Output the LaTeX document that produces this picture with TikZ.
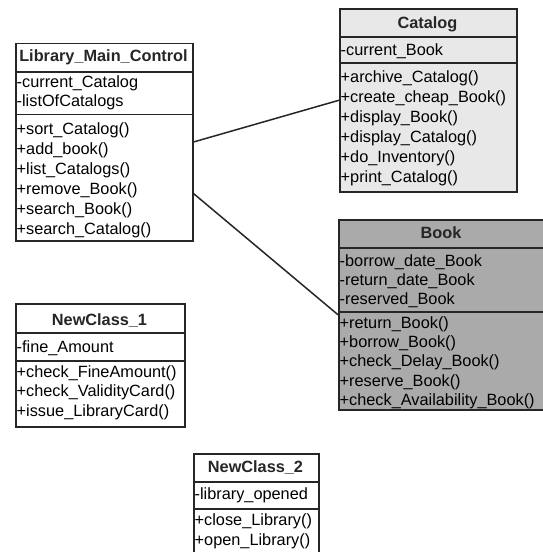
\documentclass[tikz,border=0pt]{standalone}
\usepackage{fontspec}
\setmainfont{Liberation Sans}
\definecolor{linegray}{HTML}{262626}
\definecolor{catalogfill}{HTML}{E8E8E8}
\definecolor{bookfill}{HTML}{AAAAAA}
\newcommand\rowfont{\fontsize{16.3}{19.6}\selectfont}
\newcommand\titlefont{\fontsize{16.3}{19.6}\selectfont\bfseries}
% one text row per list item, first baseline at #3, rows #4 apart
\newcommand\umlrows[5]{%
  \foreach \t [count=\i from 0] in {#5}{%
    \node[rowtext] (#1-\i) at ({#2},{#3+\i*#4}) {\t};}}
% class frame: name, left, top, right, bottom, fill
\newcommand\umlbox[6]{%
  \node[classbox, fill=#6, minimum width={#4-#2}, minimum height={#5-#3}] (#1) at (#2,#3) {};}
\tikzset{
  classbox/.style={draw=linegray, line width=1.5pt, inner sep=0pt, anchor=north west},
  divider/.style={draw=linegray, line width=1.5pt},
  rowtext/.style={inner sep=0pt, anchor=base west, font=\rowfont, text=black},
  titletext/.style={inner sep=0pt, anchor=base, font=\titlefont, text=black!85},
  assoc/.style={draw=linegray, line width=1.5pt},
}
\begin{document}
\begin{tikzpicture}[x=1pt,y=-1pt]
\clip (0,0) rectangle (543,552);
\fill[white] (0,0) rectangle (543,552);

% Library_Main_Control
\umlbox{lmc}{15}{42.5}{192}{240}{white}
\draw[divider] (15,72) -- (192,72);
\draw[divider] (15,114.5) -- (192,114.5);
\node[titletext] (lmc-title) at (103.5,61) {Library\_Main\_Control};
\umlrows{lmc-a}{16.5}{87}{19.2}{-current\_Catalog,-listOfCatalogs}
\umlrows{lmc-m}{16.5}{134}{20.1}{+sort\_Catalog(),+add\_book(),+list\_Catalogs(),+remove\_Book(),+search\_Book(),+search\_Catalog()}

% Catalog
\umlbox{catalog}{339}{8}{516}{191}{catalogfill}
\draw[divider] (339,37) -- (516,37);
\draw[divider] (339,63) -- (516,63);
\node[titletext] (catalog-title) at (427.5,28) {Catalog};
\umlrows{catalog-a}{340.5}{55}{19.6}{-current\_Book}
\umlrows{catalog-m}{340.5}{82.5}{19.9}{+archive\_Catalog(),+create\_cheap\_Book(),+display\_Book(),+display\_Catalog(),+do\_Inventory(),+print\_Catalog()}

% Book
\umlbox{book}{338}{219}{548}{409}{bookfill}
\draw[divider] (338,248) -- (548,248);
\draw[divider] (338,312) -- (548,312);
\node[titletext] (book-title) at (441,238) {Book};
\umlrows{book-a}{339.5}{266}{19.2}{-borrow\_date\_Book,-return\_date\_Book,-reserved\_Book}
\umlrows{book-m}{339.5}{328}{19.4}{+return\_Book(),+borrow\_Book(),+check\_Delay\_Book(),+reserve\_Book(),+check\_Availability\_Book()}

% NewClass_1
\umlbox{nc1}{15}{303}{184}{426}{white}
\draw[divider] (15,333) -- (184,333);
\draw[divider] (15,361) -- (184,361);
\node[titletext] (nc1-title) at (99.5,325) {NewClass\_1};
\umlrows{nc1-a}{16.5}{352}{19.6}{-fine\_Amount}
\umlrows{nc1-m}{16.5}{377}{19.6}{+check\_FineAmount(),+check\_ValidityCard(),+issue\_LibraryCard()}

% NewClass_2
\umlbox{nc2}{193}{453}{318}{565}{white}
\draw[divider] (193,482) -- (318,482);
\draw[divider] (193,509) -- (318,509);
\node[titletext] (nc2-title) at (255.5,472) {NewClass\_2};
\umlrows{nc2-a}{194.5}{499}{19.6}{-library\_opened}
\umlrows{nc2-m}{194.5}{525}{20}{+close\_Library(),+open\_Library()}

% associations
\draw[assoc] (lmc.east) -- (catalog.west);
\draw[assoc] (lmc.-30) -- (book.west);
\end{tikzpicture}
\end{document}
